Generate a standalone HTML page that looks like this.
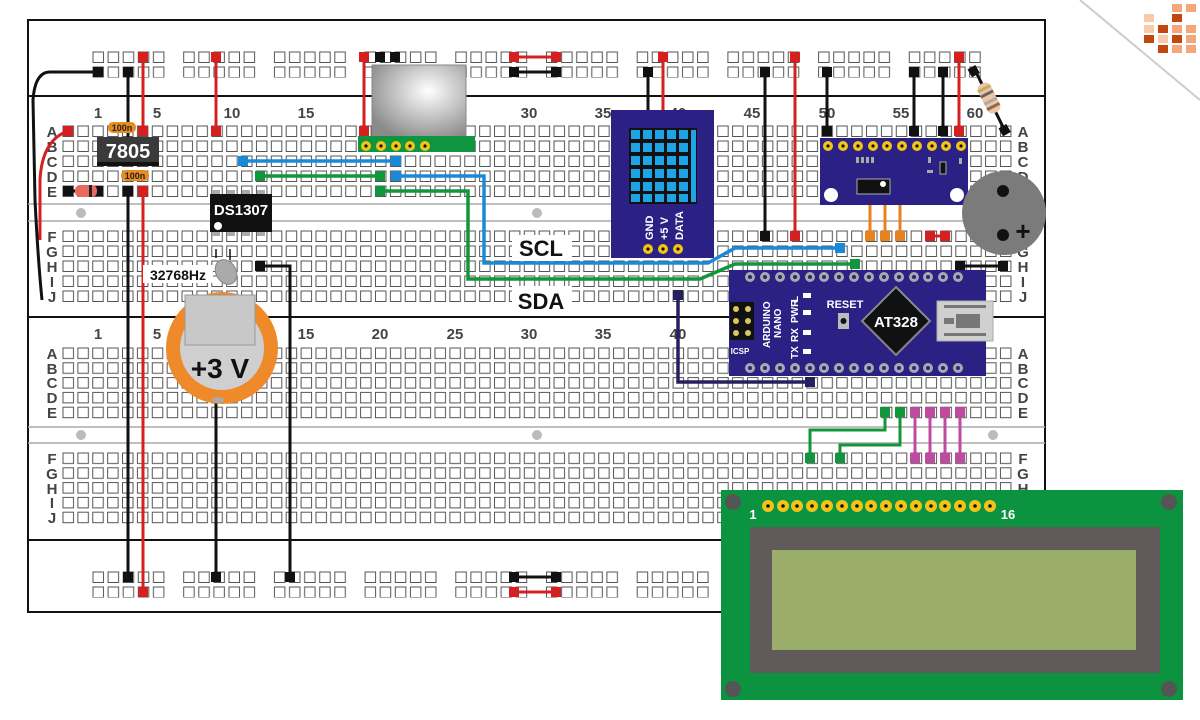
<!DOCTYPE html>
<html><head><meta charset="utf-8"><style>
html,body{margin:0;padding:0;background:#fff;width:1200px;height:720px;overflow:hidden}
svg{display:block}
text{font-family:"Liberation Sans",sans-serif;font-weight:bold}
</style></head><body>
<svg width="1200" height="720" viewBox="0 0 1200 720" xmlns="http://www.w3.org/2000/svg">
<defs>
<pattern id="h" patternUnits="userSpaceOnUse" x="62.5" y="125.5" width="14.88" height="15">
<rect x="0.5" y="0.5" width="10.5" height="10.5" fill="#fff" stroke="#555" stroke-width="1"/></pattern>
<pattern id="h2" patternUnits="userSpaceOnUse" x="62.5" y="230.5" width="14.88" height="15">
<rect x="0.5" y="0.5" width="10.5" height="10.5" fill="#fff" stroke="#555" stroke-width="1"/></pattern>
<pattern id="h3" patternUnits="userSpaceOnUse" x="62.5" y="347.5" width="14.88" height="14.8">
<rect x="0.5" y="0.5" width="10.5" height="10.5" fill="#fff" stroke="#555" stroke-width="1"/></pattern>
<pattern id="h4" patternUnits="userSpaceOnUse" x="62.5" y="452.5" width="14.88" height="14.8">
<rect x="0.5" y="0.5" width="10.5" height="10.5" fill="#fff" stroke="#555" stroke-width="1"/></pattern>
<pattern id="r" patternUnits="userSpaceOnUse" x="92.5" y="51.5" width="90.7" height="15">
<rect x="0.5" y="0.5" width="10.5" height="10.5" fill="#fff" stroke="#555"/>
<rect x="15.6" y="0.5" width="10.5" height="10.5" fill="#fff" stroke="#555"/>
<rect x="30.7" y="0.5" width="10.5" height="10.5" fill="#fff" stroke="#555"/>
<rect x="45.8" y="0.5" width="10.5" height="10.5" fill="#fff" stroke="#555"/>
<rect x="60.9" y="0.5" width="10.5" height="10.5" fill="#fff" stroke="#555"/></pattern>
<pattern id="rb" patternUnits="userSpaceOnUse" x="92.5" y="571.5" width="90.7" height="15">
<rect x="0.5" y="0.5" width="10.5" height="10.5" fill="#fff" stroke="#555"/>
<rect x="15.6" y="0.5" width="10.5" height="10.5" fill="#fff" stroke="#555"/>
<rect x="30.7" y="0.5" width="10.5" height="10.5" fill="#fff" stroke="#555"/>
<rect x="45.8" y="0.5" width="10.5" height="10.5" fill="#fff" stroke="#555"/>
<rect x="60.9" y="0.5" width="10.5" height="10.5" fill="#fff" stroke="#555"/></pattern>
<radialGradient id="pir" cx="0.6" cy="0.35" r="0.7"><stop offset="0" stop-color="#fff"/><stop offset="1" stop-color="#8a8a8a"/></radialGradient>
<linearGradient id="fold" gradientUnits="userSpaceOnUse" x1="1140" y1="0" x2="1115" y2="30"><stop offset="0" stop-color="#fff"/><stop offset="0.5" stop-color="#d8d8d8"/><stop offset="1" stop-color="#fff"/></linearGradient>
</defs>

<!-- corner fold + logo -->
<polygon points="1080,0 1200,100 1200,130 1110,30" fill="url(#fold)" opacity="0.8"/>
<line x1="1080" y1="0" x2="1200" y2="100" stroke="#ccc" stroke-width="2"/>
<g>
<rect x="1172" y="4" width="10" height="8" fill="#f5a77a"/><rect x="1186" y="4" width="10" height="8" fill="#f5a77a"/>
<rect x="1144" y="14" width="10" height="8" fill="#f9c9ad"/><rect x="1172" y="14" width="10" height="8" fill="#c2460e"/>
<rect x="1144" y="25" width="10" height="8" fill="#f9c9ad"/><rect x="1158" y="25" width="10" height="8" fill="#c2460e"/><rect x="1172" y="25" width="10" height="8" fill="#f5a77a"/><rect x="1186" y="25" width="10" height="8" fill="#f5a77a"/>
<rect x="1144" y="35" width="10" height="8" fill="#c2460e"/><rect x="1158" y="35" width="10" height="8" fill="#f9c9ad"/><rect x="1172" y="35" width="10" height="8" fill="#c2460e"/><rect x="1186" y="35" width="10" height="8" fill="#f5a77a"/>
<rect x="1158" y="45" width="10" height="8" fill="#c2460e"/><rect x="1172" y="45" width="10" height="8" fill="#f5a77a"/><rect x="1186" y="45" width="10" height="8" fill="#f5a77a"/>
</g>

<!-- breadboard -->
<rect x="28" y="20" width="1017" height="592" fill="#fff" stroke="#111" stroke-width="2"/>
<line x1="28" y1="96" x2="1045" y2="96" stroke="#111" stroke-width="2"/>
<line x1="28" y1="317" x2="1045" y2="317" stroke="#111" stroke-width="2"/>
<line x1="28" y1="540" x2="1045" y2="540" stroke="#111" stroke-width="2"/>
<line x1="28" y1="204" x2="1045" y2="204" stroke="#aaa" stroke-width="1.5"/>
<line x1="28" y1="221" x2="1045" y2="221" stroke="#aaa" stroke-width="1.5"/>
<line x1="28" y1="427" x2="1045" y2="427" stroke="#aaa" stroke-width="1.5"/>
<line x1="28" y1="443" x2="1045" y2="443" stroke="#aaa" stroke-width="1.5"/>
<circle cx="81" cy="213" r="5" fill="#bbb"/><circle cx="537" cy="213" r="5" fill="#bbb"/><circle cx="993" cy="213" r="5" fill="#bbb"/>
<circle cx="81" cy="435" r="5" fill="#bbb"/><circle cx="537" cy="435" r="5" fill="#bbb"/><circle cx="993" cy="435" r="5" fill="#bbb"/>

<rect x="92.5" y="51.5" width="900" height="26" fill="url(#r)"/>
<rect x="92.5" y="571.5" width="900" height="26" fill="url(#rb)"/>
<rect x="62.5" y="125.5" width="952" height="75" fill="url(#h)"/>
<rect x="62.5" y="230.5" width="952" height="75" fill="url(#h2)"/>
<rect x="62.5" y="347.5" width="952" height="74" fill="url(#h3)"/>
<rect x="62.5" y="452.5" width="952" height="74" fill="url(#h4)"/>

<g font-size="15" fill="#444" text-anchor="middle">
<text x="98" y="118">1</text><text x="157" y="118">5</text><text x="232" y="118">10</text><text x="306" y="118">15</text><text x="380" y="118">20</text><text x="455" y="118">25</text><text x="529" y="118">30</text><text x="603" y="118">35</text><text x="678" y="118">40</text><text x="752" y="118">45</text><text x="827" y="118">50</text><text x="901" y="118">55</text><text x="975" y="118">60</text>
<text x="98" y="339">1</text><text x="157" y="339">5</text><text x="232" y="339">10</text><text x="306" y="339">15</text><text x="380" y="339">20</text><text x="455" y="339">25</text><text x="529" y="339">30</text><text x="603" y="339">35</text><text x="678" y="339">40</text>
</g>
<g font-size="15" fill="#444" text-anchor="middle">
<text x="52" y="137">A</text><text x="52" y="152">B</text><text x="52" y="167">C</text><text x="52" y="182">D</text><text x="52" y="197">E</text>
<text x="52" y="242">F</text><text x="52" y="257">G</text><text x="52" y="272">H</text><text x="52" y="287">I</text><text x="52" y="302">J</text>
<text x="52" y="359">A</text><text x="52" y="374">B</text><text x="52" y="388">C</text><text x="52" y="403">D</text><text x="52" y="418">E</text>
<text x="52" y="464">F</text><text x="52" y="479">G</text><text x="52" y="494">H</text><text x="52" y="508">I</text><text x="52" y="523">J</text>
<text x="1023" y="137">A</text><text x="1023" y="152">B</text><text x="1023" y="167">C</text><text x="1023" y="182">D</text><text x="1023" y="197">E</text>
<text x="1023" y="242">F</text><text x="1023" y="257">G</text><text x="1023" y="272">H</text><text x="1023" y="287">I</text><text x="1023" y="302">J</text>
<text x="1023" y="359">A</text><text x="1023" y="374">B</text><text x="1023" y="388">C</text><text x="1023" y="403">D</text><text x="1023" y="418">E</text>
<text x="1023" y="464">F</text><text x="1023" y="479">G</text><text x="1023" y="494">H</text><text x="1023" y="508">I</text><text x="1023" y="523">J</text>
</g>

<!-- left wires -->
<path d="M98,72 H50 Q35,72 33,100 L35,200 Q38,260 42,300" fill="none" stroke="#111" stroke-width="3"/>
<path d="M68,131 Q42,140 40,180 L40,240" fill="none" stroke="#d42020" stroke-width="3"/>
<g fill="#111"><rect x="93" y="67" width="10" height="10"/><rect x="123" y="67" width="10" height="10"/></g>
<rect x="63" y="126" width="10" height="10" fill="#d42020"/>
<!-- vertical power wires -->
<g stroke-width="3" fill="none">
<line x1="128" y1="72" x2="128" y2="140" stroke="#111"/>
<line x1="143" y1="57" x2="143" y2="131" stroke="#d42020"/>
<line x1="128" y1="191" x2="128" y2="577" stroke="#111"/>
<line x1="143" y1="191" x2="143" y2="592" stroke="#d42020"/>
<line x1="216" y1="57" x2="216" y2="131" stroke="#d42020"/>
<line x1="216" y1="400" x2="216" y2="577" stroke="#111"/>
<path d="M260,266 H290 V577" stroke="#111"/>
<line x1="364" y1="57" x2="364" y2="131" stroke="#d42020"/>
<line x1="514" y1="57" x2="556" y2="57" stroke="#d42020"/>
<line x1="514" y1="72" x2="556" y2="72" stroke="#111"/>
<line x1="514" y1="577" x2="556" y2="577" stroke="#111"/>
<line x1="514" y1="592" x2="556" y2="592" stroke="#d42020"/>
<line x1="648" y1="72" x2="648" y2="115" stroke="#111"/>
<line x1="663" y1="57" x2="663" y2="115" stroke="#d42020"/>
<line x1="765" y1="72" x2="765" y2="236" stroke="#111"/>
<line x1="795" y1="57" x2="795" y2="236" stroke="#d42020"/>
<line x1="827" y1="72" x2="827" y2="131" stroke="#111"/>
<line x1="914" y1="72" x2="914" y2="131" stroke="#111"/>
<line x1="943" y1="72" x2="943" y2="131" stroke="#111"/>
<line x1="959" y1="57" x2="959" y2="131" stroke="#d42020"/>
<line x1="960" y1="266" x2="1003" y2="266" stroke="#111"/>
<line x1="930" y1="236" x2="945" y2="236" stroke="#d42020"/>
</g>
<g fill="#d42020">
<rect x="138" y="52" width="10" height="10"/><rect x="138" y="126" width="10" height="10"/><rect x="138" y="186" width="10" height="10"/><rect x="138" y="587" width="10" height="10"/>
<rect x="211" y="52" width="10" height="10"/><rect x="211" y="126" width="10" height="10"/>
<rect x="359" y="52" width="10" height="10"/><rect x="359" y="126" width="10" height="10"/>
<rect x="509" y="52" width="10" height="10"/><rect x="551" y="52" width="10" height="10"/><rect x="509" y="587" width="10" height="10"/><rect x="551" y="587" width="10" height="10"/>
<rect x="658" y="52" width="10" height="10"/><rect x="790" y="52" width="10" height="10"/><rect x="790" y="231" width="10" height="10"/>
<rect x="954" y="52" width="10" height="10"/><rect x="954" y="126" width="10" height="10"/>
<rect x="925" y="231" width="10" height="10"/><rect x="940" y="231" width="10" height="10"/>
</g>
<g fill="#111">
<rect x="123" y="186" width="10" height="10"/><rect x="123" y="572" width="10" height="10"/><rect x="211" y="572" width="10" height="10"/>
<rect x="255" y="261" width="10" height="10"/><rect x="285" y="572" width="10" height="10"/>
<rect x="375" y="52" width="10" height="10"/><rect x="390" y="52" width="10" height="10"/>
<rect x="509" y="67" width="10" height="10"/><rect x="551" y="67" width="10" height="10"/><rect x="509" y="572" width="10" height="10"/><rect x="551" y="572" width="10" height="10"/>
<rect x="643" y="67" width="10" height="10"/><rect x="760" y="67" width="10" height="10"/><rect x="760" y="231" width="10" height="10"/>
<rect x="822" y="67" width="10" height="10"/><rect x="822" y="126" width="10" height="10"/>
<rect x="909" y="67" width="10" height="10"/><rect x="909" y="126" width="10" height="10"/>
<rect x="938" y="67" width="10" height="10"/><rect x="938" y="126" width="10" height="10"/>
<rect x="955" y="261" width="10" height="10"/><rect x="998" y="261" width="10" height="10"/>
</g>

<!-- diode -->
<line x1="68" y1="191" x2="98" y2="191" stroke="#111" stroke-width="3"/>
<rect x="63" y="186" width="10" height="10" fill="#111"/><rect x="93" y="186" width="10" height="10" fill="#111"/>
<rect x="75" y="185" width="22" height="12" rx="5" fill="#e86a5e"/>
<rect x="89" y="185" width="3" height="12" fill="#222"/>

<!-- 7805 -->
<rect x="97" y="137" width="62" height="27" fill="#3a3a3a"/>
<rect x="97" y="162" width="62" height="4" fill="#111"/>
<text x="128" y="158" font-size="20" fill="#fff" text-anchor="middle">7805</text>
<rect x="108" y="122" width="28" height="11" rx="5" fill="#e88c20"/>
<text x="122" y="131" font-size="9" fill="#222" text-anchor="middle">100n</text>
<rect x="121" y="170" width="28" height="11" rx="5" fill="#e88c20"/>
<text x="135" y="179" font-size="9" fill="#222" text-anchor="middle">100n</text>

<!-- DS1307 -->
<g fill="#aaa"><rect x="212" y="190" width="8" height="5"/><rect x="227" y="190" width="8" height="5"/><rect x="242" y="190" width="8" height="5"/><rect x="257" y="190" width="8" height="5"/>
<rect x="212" y="231" width="8" height="5"/><rect x="227" y="231" width="8" height="5"/><rect x="242" y="231" width="8" height="5"/><rect x="257" y="231" width="8" height="5"/></g>
<rect x="210" y="194" width="62" height="38" fill="#111"/>
<text x="241" y="215" font-size="15" fill="#fff" text-anchor="middle">DS1307</text>
<circle cx="218" cy="226" r="4" fill="#fff"/>
<path d="M216,249 V258 M230,249 V260" stroke="#111" stroke-width="1.5"/>
<ellipse cx="226" cy="272" rx="10" ry="13" fill="#aaa" stroke="#888" transform="rotate(-30 226 272)"/>
<rect x="143" y="265" width="70" height="18" fill="#fff"/>
<text x="178" y="280" font-size="14" fill="#111" text-anchor="middle">32768Hz</text>

<!-- battery -->
<circle cx="222" cy="348" r="56" fill="#ee8a2a"/>
<circle cx="222" cy="348" r="42" fill="#cfcfcf"/>
<rect x="185" y="295" width="70" height="50" fill="#c8c8c8" stroke="#999"/>
<ellipse cx="218" cy="400" rx="6" ry="3" fill="#aaa"/>
<text x="220" y="378" font-size="28" fill="#111" text-anchor="middle">+3 V</text>

<!-- PIR -->
<rect x="372" y="65" width="94" height="74" fill="url(#pir)" stroke="#888"/>
<rect x="358" y="136" width="117" height="16" fill="#0f9440"/>
<g fill="#f2c418"><circle cx="366" cy="146" r="5"/><circle cx="381" cy="146" r="5"/><circle cx="396" cy="146" r="5"/><circle cx="410" cy="146" r="5"/><circle cx="425" cy="146" r="5"/></g>
<g fill="#111"><circle cx="366" cy="146" r="1.6"/><circle cx="381" cy="146" r="1.6"/><circle cx="396" cy="146" r="1.6"/><circle cx="410" cy="146" r="1.6"/><circle cx="425" cy="146" r="1.6"/></g>

<!-- SCL/SDA wires -->
<g fill="none" stroke-width="3.5">
<path d="M243,161 H396" stroke="#1a8ad8"/>
<path d="M260,176 H380" stroke="#12963c"/>
<path d="M396,176 H484 V263 H708 L735,248 H840" stroke="#1a8ad8"/>
<path d="M380,191 H468 V279 H700 L735,264 H855" stroke="#12963c"/>
<path d="M678,295 V382 H810" stroke="#26205e"/>
</g>
<g fill="#1a8ad8"><rect x="238" y="156" width="10" height="10"/><rect x="391" y="156" width="10" height="10"/><rect x="391" y="171" width="10" height="10"/><rect x="835" y="243" width="10" height="10"/></g>
<g fill="#12963c"><rect x="255" y="171" width="10" height="10"/><rect x="375" y="171" width="10" height="10"/><rect x="375" y="186" width="10" height="10"/><rect x="850" y="259" width="10" height="10"/></g>
<rect x="673" y="290" width="10" height="10" fill="#26205e"/><rect x="805" y="377" width="10" height="10" fill="#26205e"/>
<rect x="512" y="235" width="60" height="26" fill="#fff"/>
<text x="541" y="256" font-size="22" fill="#111" text-anchor="middle">SCL</text>
<rect x="512" y="286" width="60" height="26" fill="#fff"/>
<text x="541" y="309" font-size="22" fill="#111" text-anchor="middle">SDA</text>

<!-- LED matrix -->
<rect x="611" y="110" width="103" height="148" fill="#2b2185"/>
<rect x="629" y="128" width="68" height="76" fill="#111"/>
<g fill="#1ea3e6">
<rect x="631" y="130" width="9" height="9"/><rect x="643" y="130" width="9" height="9"/><rect x="655" y="130" width="9" height="9"/><rect x="667" y="130" width="9" height="9"/><rect x="679" y="130" width="9" height="9"/>
<rect x="631" y="143" width="9" height="9"/><rect x="643" y="143" width="9" height="9"/><rect x="655" y="143" width="9" height="9"/><rect x="667" y="143" width="9" height="9"/><rect x="679" y="143" width="9" height="9"/>
<rect x="631" y="156" width="9" height="9"/><rect x="643" y="156" width="9" height="9"/><rect x="655" y="156" width="9" height="9"/><rect x="667" y="156" width="9" height="9"/><rect x="679" y="156" width="9" height="9"/>
<rect x="631" y="169" width="9" height="9"/><rect x="643" y="169" width="9" height="9"/><rect x="655" y="169" width="9" height="9"/><rect x="667" y="169" width="9" height="9"/><rect x="679" y="169" width="9" height="9"/>
<rect x="631" y="182" width="9" height="9"/><rect x="643" y="182" width="9" height="9"/><rect x="655" y="182" width="9" height="9"/><rect x="667" y="182" width="9" height="9"/><rect x="679" y="182" width="9" height="9"/>
<rect x="631" y="194" width="9" height="8"/><rect x="643" y="194" width="9" height="8"/><rect x="655" y="194" width="9" height="8"/><rect x="667" y="194" width="9" height="8"/><rect x="679" y="194" width="9" height="8"/>
<rect x="691" y="130" width="5" height="72"/>
</g>
<g font-size="11" fill="#fff">
<text transform="translate(653,240) rotate(-90)">GND</text>
<text transform="translate(668,240) rotate(-90)">+5 V</text>
<text transform="translate(683,240) rotate(-90)">DATA</text>
</g>
<g fill="#f2c418"><circle cx="648" cy="249" r="5"/><circle cx="663" cy="249" r="5"/><circle cx="678" cy="249" r="5"/></g>
<g fill="#111"><circle cx="648" cy="249" r="1.6"/><circle cx="663" cy="249" r="1.6"/><circle cx="678" cy="249" r="1.6"/></g>

<!-- RTC module right -->
<g stroke="#e8821e" stroke-width="3"><line x1="870" y1="203" x2="870" y2="236"/><line x1="885" y1="203" x2="885" y2="236"/><line x1="900" y1="203" x2="900" y2="236"/></g>
<g fill="#e8821e"><rect x="865" y="231" width="10" height="10"/><rect x="880" y="231" width="10" height="10"/><rect x="895" y="231" width="10" height="10"/></g>
<rect x="820" y="138" width="148" height="67" fill="#2b2185"/>
<g fill="#f2c418"><circle cx="828" cy="146" r="5"/><circle cx="843" cy="146" r="5"/><circle cx="858" cy="146" r="5"/><circle cx="873" cy="146" r="5"/><circle cx="887" cy="146" r="5"/><circle cx="902" cy="146" r="5"/><circle cx="917" cy="146" r="5"/><circle cx="932" cy="146" r="5"/><circle cx="946" cy="146" r="5"/><circle cx="961" cy="146" r="5"/></g>
<g fill="#111"><circle cx="828" cy="146" r="1.6"/><circle cx="843" cy="146" r="1.6"/><circle cx="858" cy="146" r="1.6"/><circle cx="873" cy="146" r="1.6"/><circle cx="887" cy="146" r="1.6"/><circle cx="902" cy="146" r="1.6"/><circle cx="917" cy="146" r="1.6"/><circle cx="932" cy="146" r="1.6"/><circle cx="946" cy="146" r="1.6"/><circle cx="961" cy="146" r="1.6"/></g>
<g fill="#aaa"><rect x="856" y="157" width="3" height="6"/><rect x="861" y="157" width="3" height="6"/><rect x="866" y="157" width="3" height="6"/><rect x="871" y="157" width="3" height="6"/><rect x="928" y="157" width="3" height="6"/><rect x="927" y="170" width="6" height="3"/><rect x="959" y="158" width="3" height="6"/></g>
<rect x="940" y="162" width="6" height="12" fill="#111" stroke="#aaa"/>
<rect x="857" y="179" width="33" height="15" fill="#111" stroke="#aaa"/><circle cx="883" cy="184" r="3" fill="#fff"/>
<circle cx="831" cy="195" r="7" fill="#fff"/><circle cx="957" cy="195" r="7" fill="#fff"/>

<!-- resistor -->
<line x1="975" y1="70" x2="1005" y2="131" stroke="#111" stroke-width="3"/>
<rect x="969" y="67" width="9" height="9" fill="#111" transform="rotate(-30 973 71)"/>
<rect x="1000" y="126" width="9" height="9" fill="#111" transform="rotate(-30 1004 130)"/>
<rect x="982" y="82" width="14" height="32" rx="6" fill="#f0c3a3" transform="rotate(-27 989 98)"/>
<g transform="rotate(-27 989 98)" fill="#b8b060"><rect x="982" y="86" width="14" height="3"/><rect x="982" y="92" width="14" height="3" fill="#666"/><rect x="982" y="100" width="14" height="3" fill="#aaa"/><rect x="982" y="106" width="14" height="3" fill="#8a6a4a"/></g>

<!-- buzzer -->
<circle cx="1004" cy="213" r="42" fill="#7b7b7b"/>
<circle cx="1003" cy="191" r="6" fill="#111"/><circle cx="1003" cy="235" r="6" fill="#111"/>
<text x="1023" y="240" font-size="26" fill="#111" text-anchor="middle">+</text>

<!-- Arduino Nano -->
<rect x="729" y="270" width="257" height="106" fill="#2b2185"/>
<g fill="#aaa">
<circle cx="750" cy="277" r="5"/><circle cx="765" cy="277" r="5"/><circle cx="780" cy="277" r="5"/><circle cx="795" cy="277" r="5"/><circle cx="810" cy="277" r="5"/><circle cx="824" cy="277" r="5"/><circle cx="839" cy="277" r="5"/><circle cx="854" cy="277" r="5"/><circle cx="869" cy="277" r="5"/><circle cx="884" cy="277" r="5"/><circle cx="899" cy="277" r="5"/><circle cx="914" cy="277" r="5"/><circle cx="928" cy="277" r="5"/><circle cx="943" cy="277" r="5"/><circle cx="958" cy="277" r="5"/>
<circle cx="750" cy="368" r="5"/><circle cx="765" cy="368" r="5"/><circle cx="780" cy="368" r="5"/><circle cx="795" cy="368" r="5"/><circle cx="810" cy="368" r="5"/><circle cx="824" cy="368" r="5"/><circle cx="839" cy="368" r="5"/><circle cx="854" cy="368" r="5"/><circle cx="869" cy="368" r="5"/><circle cx="884" cy="368" r="5"/><circle cx="899" cy="368" r="5"/><circle cx="914" cy="368" r="5"/><circle cx="928" cy="368" r="5"/><circle cx="943" cy="368" r="5"/><circle cx="958" cy="368" r="5"/>
</g>
<g fill="#2b2185">
<circle cx="750" cy="277" r="2"/><circle cx="765" cy="277" r="2"/><circle cx="780" cy="277" r="2"/><circle cx="795" cy="277" r="2"/><circle cx="810" cy="277" r="2"/><circle cx="824" cy="277" r="2"/><circle cx="839" cy="277" r="2"/><circle cx="854" cy="277" r="2"/><circle cx="869" cy="277" r="2"/><circle cx="884" cy="277" r="2"/><circle cx="899" cy="277" r="2"/><circle cx="914" cy="277" r="2"/><circle cx="928" cy="277" r="2"/><circle cx="943" cy="277" r="2"/><circle cx="958" cy="277" r="2"/>
<circle cx="750" cy="368" r="2"/><circle cx="765" cy="368" r="2"/><circle cx="780" cy="368" r="2"/><circle cx="795" cy="368" r="2"/><circle cx="810" cy="368" r="2"/><circle cx="824" cy="368" r="2"/><circle cx="839" cy="368" r="2"/><circle cx="854" cy="368" r="2"/><circle cx="869" cy="368" r="2"/><circle cx="884" cy="368" r="2"/><circle cx="899" cy="368" r="2"/><circle cx="914" cy="368" r="2"/><circle cx="928" cy="368" r="2"/><circle cx="943" cy="368" r="2"/><circle cx="958" cy="368" r="2"/>
</g>
<rect x="730" y="302" width="24" height="38" fill="#111"/>
<g fill="#d8c860"><circle cx="736" cy="309" r="3"/><circle cx="748" cy="309" r="3"/><circle cx="736" cy="321" r="3"/><circle cx="748" cy="321" r="3"/><circle cx="736" cy="333" r="3"/><circle cx="748" cy="333" r="3"/></g>
<text x="740" y="354" font-size="8" fill="#fff" text-anchor="middle">ICSP</text>
<g font-size="10" fill="#fff">
<text transform="translate(770,348) rotate(-90)">ARDUINO</text>
<text transform="translate(781,338) rotate(-90)">NANO</text>
<text transform="translate(798,302) rotate(-90)">L</text>
<text transform="translate(798,323) rotate(-90)">PWR</text>
<text transform="translate(798,342) rotate(-90)">RX</text>
<text transform="translate(798,359) rotate(-90)">TX</text>
</g>
<g fill="#fff"><rect x="803" y="293" width="8" height="5"/><rect x="803" y="310" width="8" height="5"/><rect x="803" y="330" width="8" height="5"/><rect x="803" y="349" width="8" height="5"/></g>
<text x="845" y="308" font-size="11" fill="#fff" text-anchor="middle">RESET</text>
<rect x="838" y="313" width="11" height="16" fill="#bbb"/><circle cx="843.5" cy="321" r="3" fill="#111"/>
<polygon points="896,287 930,321 896,355 862,321" fill="#111" stroke="#888" stroke-width="2"/>
<text x="896" y="327" font-size="15" fill="#fff" text-anchor="middle">AT328</text>
<rect x="937" y="301" width="56" height="40" fill="#d0d0d0" stroke="#aaa"/>
<rect x="944" y="305" width="42" height="3" fill="#777"/><rect x="944" y="333" width="42" height="3" fill="#777"/>
<rect x="956" y="314" width="24" height="14" fill="#777"/><rect x="944" y="318" width="10" height="6" fill="#777"/>

<!-- lower wires to LCD region -->
<g fill="none" stroke-width="3">
<path d="M885,412 V430 H810 V458" stroke="#12963c"/>
<path d="M900,412 V445 H840 V458" stroke="#12963c"/>
<line x1="915" y1="412" x2="915" y2="458" stroke="#c04aa0"/>
<line x1="930" y1="412" x2="930" y2="458" stroke="#c04aa0"/>
<line x1="945" y1="412" x2="945" y2="458" stroke="#c04aa0"/>
<line x1="960" y1="412" x2="960" y2="458" stroke="#c04aa0"/>
</g>
<g fill="#12963c"><rect x="880" y="407" width="10" height="10"/><rect x="895" y="407" width="10" height="10"/><rect x="805" y="453" width="10" height="10"/><rect x="835" y="453" width="10" height="10"/></g>
<g fill="#c04aa0"><rect x="910" y="407" width="10" height="10"/><rect x="925" y="407" width="10" height="10"/><rect x="940" y="407" width="10" height="10"/><rect x="955" y="407" width="10" height="10"/>
<rect x="910" y="453" width="10" height="10"/><rect x="925" y="453" width="10" height="10"/><rect x="940" y="453" width="10" height="10"/><rect x="955" y="453" width="10" height="10"/></g>

<!-- LCD -->
<rect x="721" y="490" width="462" height="210" fill="#0b9340"/>
<rect x="750" y="527" width="410" height="146" fill="#605a5a"/>
<rect x="772" y="550" width="364" height="100" fill="#9aae6a"/>
<g fill="#555"><circle cx="733" cy="502" r="8"/><circle cx="1169" cy="502" r="8"/><circle cx="733" cy="689" r="8"/><circle cx="1169" cy="689" r="8"/></g>
<g fill="#f2c418">
<circle cx="768" cy="506" r="6"/><circle cx="783" cy="506" r="6"/><circle cx="797" cy="506" r="6"/><circle cx="812" cy="506" r="6"/><circle cx="827" cy="506" r="6"/><circle cx="842" cy="506" r="6"/><circle cx="857" cy="506" r="6"/><circle cx="871" cy="506" r="6"/><circle cx="886" cy="506" r="6"/><circle cx="901" cy="506" r="6"/><circle cx="916" cy="506" r="6"/><circle cx="931" cy="506" r="6"/><circle cx="945" cy="506" r="6"/><circle cx="960" cy="506" r="6"/><circle cx="975" cy="506" r="6"/><circle cx="990" cy="506" r="6"/>
</g>
<g fill="#111">
<circle cx="768" cy="506" r="1.8"/><circle cx="783" cy="506" r="1.8"/><circle cx="797" cy="506" r="1.8"/><circle cx="812" cy="506" r="1.8"/><circle cx="827" cy="506" r="1.8"/><circle cx="842" cy="506" r="1.8"/><circle cx="857" cy="506" r="1.8"/><circle cx="871" cy="506" r="1.8"/><circle cx="886" cy="506" r="1.8"/><circle cx="901" cy="506" r="1.8"/><circle cx="916" cy="506" r="1.8"/><circle cx="931" cy="506" r="1.8"/><circle cx="945" cy="506" r="1.8"/><circle cx="960" cy="506" r="1.8"/><circle cx="975" cy="506" r="1.8"/><circle cx="990" cy="506" r="1.8"/>
</g>
<text x="753" y="519" font-size="13" fill="#fff" text-anchor="middle">1</text>
<text x="1008" y="519" font-size="13" fill="#fff" text-anchor="middle">16</text>
</svg>
</body></html>
